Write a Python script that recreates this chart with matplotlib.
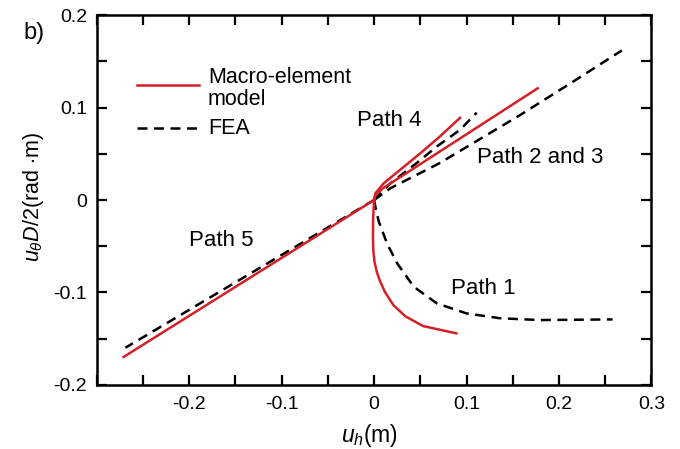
import matplotlib
matplotlib.use("Agg")
import matplotlib.pyplot as plt
from matplotlib.ticker import MultipleLocator

plt.rcParams["font.family"] = ["Liberation Sans", "DejaVu Sans"]
plt.rcParams["mathtext.fontset"] = "custom"
plt.rcParams["mathtext.rm"] = "Liberation Sans"
plt.rcParams["mathtext.it"] = "Liberation Sans:italic"

RED = "#d42027"

# macro-element model paths (u_h, u_theta*D/2)
model_p1_x = [0.0, -0.001, -0.0012, -0.0008, 0.0005, 0.003, 0.0065, 0.012, 0.021, 0.034, 0.053, 0.089]
model_p1_y = [0.0, -0.02, -0.04, -0.055, -0.067, -0.078, -0.088, -0.1, -0.114, -0.126, -0.1365, -0.1444]
model_p23_x = [0.0, 0.002, 0.01, 0.177]
model_p23_y = [0.0, 0.006, 0.013, 0.121]
model_p4_x = [0.0, 0.0014, 0.0104, 0.028, 0.05, 0.071, 0.093]
model_p4_y = [0.0, 0.0073, 0.018, 0.0325, 0.0506, 0.0686, 0.089]
model_p5_x = [0.0, -0.271]
model_p5_y = [0.0, -0.170]

# FEA paths
fea_p1_x = [0.0, 0.002, 0.005, 0.014, 0.025, 0.043, 0.068, 0.1, 0.136, 0.179, 0.258]
fea_p1_y = [0.0, -0.01, -0.023, -0.047, -0.0686, -0.094, -0.112, -0.1228, -0.128, -0.13, -0.1293]
fea_p23_x = [0.0, 0.0176, 0.071, 0.158, 0.215, 0.268]
fea_p23_y = [0.0, 0.0127, 0.04, 0.092, 0.128, 0.162]
fea_p4_x = [0.0, 0.0176, 0.046, 0.068, 0.093, 0.111]
fea_p4_y = [0.0, 0.018, 0.04, 0.058, 0.076, 0.0946]
fea_p5_x = [0.0, -0.269]
fea_p5_y = [0.0, -0.160]

fig = plt.figure(figsize=(6.8, 4.49), dpi=100)
ax = fig.add_axes([0.1422, 0.1432, 0.8158, 0.8227])

dash = (0, (4.0, 2.6))
lw = 1.8
for xs, ys in [(fea_p1_x, fea_p1_y), (fea_p23_x, fea_p23_y), (fea_p4_x, fea_p4_y), (fea_p5_x, fea_p5_y)]:
    ax.plot(xs, ys, color="black", lw=lw, linestyle=dash)
for xs, ys in [(model_p1_x, model_p1_y), (model_p23_x, model_p23_y), (model_p4_x, model_p4_y), (model_p5_x, model_p5_y)]:
    ax.plot(xs, ys, color=RED, lw=lw)

ax.set_xlim(-0.3, 0.3)
ax.set_ylim(-0.2, 0.2)
ax.xaxis.set_minor_locator(MultipleLocator(0.05))
ax.yaxis.set_minor_locator(MultipleLocator(0.05))
ax.set_xticks([-0.2, -0.1, 0, 0.1, 0.2, 0.3])
ax.set_xticklabels(["-0.2", "-0.1", "0", "0.1", "0.2", "0.3"])
ax.set_yticks([-0.2, -0.1, 0, 0.1, 0.2])
ax.set_yticklabels(["-0.2", "-0.1", "0", "0.1", "0.2"])
ax.tick_params(which="both", direction="in", top=True, right=True, length=7, width=1.6, labelsize=14)
ax.tick_params(axis="x", pad=8)
ax.tick_params(axis="y", pad=7)
for s in ax.spines.values():
    s.set_linewidth(1.8)

fig.text(370 / 680, 1 - 442 / 449, r"$u_h$(m)", fontsize=16.5, ha="center", va="baseline")
fig.text(33 / 680, 1 - 197 / 449, r"$u_\theta D/2$(rad $\cdot$m)", fontsize=15.5,
         ha="center", va="center", rotation=90)

fs = 16
ax.text(-0.019, 0.080, "Path 4", fontsize=fs, va="baseline")
ax.text(0.111, 0.0397, "Path 2 and 3", fontsize=fs, va="baseline")
ax.text(-0.1998, -0.0498, "Path 5", fontsize=fs, va="baseline")
ax.text(0.0833, -0.1018, "Path 1", fontsize=fs, va="baseline")
fig.text(23 / 680, 1 - 33 / 449, "b)", fontsize=17, va="center")

# legend drawn by hand
lfs = 15.5
ax.plot([-0.256, -0.189], [0.1246, 0.1246], color=RED, lw=lw)
ax.text(-0.1796, 0.127, "Macro-element", fontsize=lfs, va="baseline")
ax.text(-0.1796, 0.1028, "model", fontsize=lfs, va="baseline")
ax.plot([-0.256, -0.189], [0.0783, 0.0783], color="black", lw=lw, linestyle=dash)
ax.text(-0.1796, 0.0715, "FEA", fontsize=lfs, va="baseline")

fig.savefig("out.png", dpi=100)
